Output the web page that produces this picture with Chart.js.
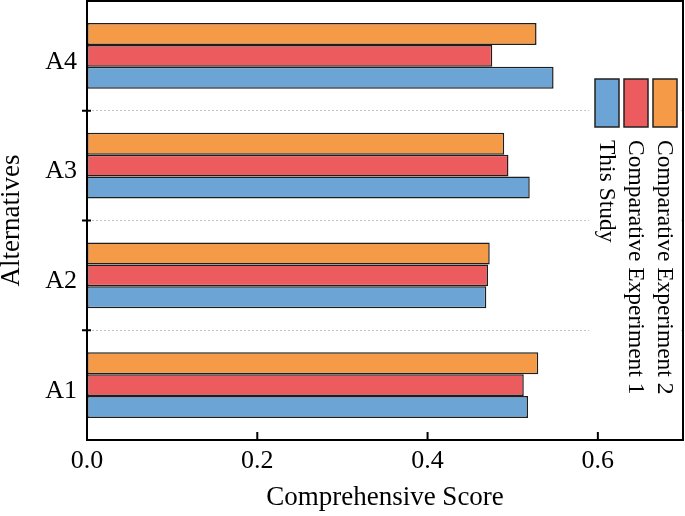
<!DOCTYPE html>
<html>
<head>
<meta charset="utf-8">
<script src="https://cdn.jsdelivr.net/npm/chart.js@4.4.0/dist/chart.umd.min.js"></script>
<style>
    html, body { margin: 0; padding: 0; background: #fff; }
    #box { width: 685px; height: 516px; }
</style>
</head>
<body>
<div id="box"><canvas id="myChart"></canvas></div>
<script>
const categories = ['A4', 'A3', 'A2', 'A1'];
const thisStudy = [0.548, 0.520, 0.469, 0.518];
const experiment1 = [0.476, 0.495, 0.471, 0.513];
const experiment2 = [0.528, 0.490, 0.473, 0.530];
const xTicks = [0, 0.2, 0.4, 0.6];

const fonte = 'Liberation Serif, Times New Roman, serif';

// legenda vertical, texto girado, desenhada a mao
const legendaPlugin = {
    id: 'legendaVertical',
    beforeDatasetsDraw(chart) {
        const ctx = chart.ctx;
        const area = chart.chartArea;
        ctx.save();
        ctx.fillStyle = '#fff';
        ctx.fillRect(589, area.top + 2, area.right - 591, area.bottom - area.top - 4);
        const ordem = chart.data.datasets.slice().reverse();
        ordem.forEach((ds, i) => {
            const x = 595 + i * 29;
            ctx.fillStyle = ds.backgroundColor;
            ctx.fillRect(x, 79, 24, 48);
            ctx.strokeStyle = '#222';
            ctx.lineWidth = 1.5;
            ctx.strokeRect(x, 79, 24, 48);
            ctx.save();
            ctx.translate(x + 11, 140);
            ctx.rotate(Math.PI / 2);
            ctx.fillStyle = '#000';
            ctx.font = '23.5px ' + fonte;
            ctx.textAlign = 'left';
            ctx.textBaseline = 'middle';
            ctx.fillText(ds.label, 0, 0);
            ctx.restore();
        });
        ctx.restore();
    },
    afterDraw(chart) {
        const ctx = chart.ctx;
        const area = chart.chartArea;
        const xs = chart.scales.x;
        const ys = chart.scales.y;
        ctx.save();
        ctx.strokeStyle = '#000';
        ctx.lineWidth = 2;
        ctx.strokeRect(area.left, area.top, area.right - area.left, area.bottom - area.top);
        ctx.beginPath();
        xTicks.forEach(v => {
            const px = xs.getPixelForValue(v);
            ctx.moveTo(px, area.bottom);
            ctx.lineTo(px, area.bottom - 8);
        });
        for (let i = 1; i < categories.length; i++) {
            const py = ys.getPixelForValue(i - 0.5);
            ctx.moveTo(area.left - 5, py);
            ctx.lineTo(area.left + 4, py);
        }
        ctx.stroke();
        ctx.restore();
    }
};

const ctxChart = document.getElementById('myChart');
const data = {
    labels: categories,
    datasets: [{
        label: 'Comparative Experiment 2',
        data: experiment2,
        backgroundColor: '#F59A47'
    }, {
        label: 'Comparative Experiment 1',
        data: experiment1,
        backgroundColor: '#EC5B5E'
    }, {
        label: 'This Study',
        data: thisStudy,
        backgroundColor: '#6CA5D5'
    }]
};
data.datasets.forEach(ds => {
    ds.borderColor = '#1e1e1e';
    ds.borderWidth = 1.5;
    ds.borderSkipped = false;
    ds.categoryPercentage = 0.6;
    ds.barPercentage = 1.0;
});

const config = {
    type: 'bar',
    data: data,
    options: {
        indexAxis: 'y',
        responsive: true,
        maintainAspectRatio: false,
        animation: false,
        layout: { padding: { top: 1, right: 2, left: 0, bottom: 0 } },
        plugins: {
            legend: { display: false },
            tooltip: { enabled: false }
        },
        scales: {
            x: {
                min: 0,
                max: 0.70,
                afterBuildTicks: scale => {
                    scale.ticks = xTicks.map(v => ({ value: v }));
                },
                afterFit: scale => {
                    scale.height = 76;
                    scale.paddingLeft = 0;
                    scale.paddingRight = 0;
                },
                grid: { display: false },
                border: { display: true, color: '#000', width: 2 },
                ticks: {
                    color: '#000',
                    padding: -2,
                    font: { family: fonte, size: 26 },
                    callback: v => Number(v).toFixed(1)
                },
                title: {
                    display: true,
                    text: 'Comprehensive Score',
                    color: '#000',
                    font: { family: fonte, size: 27, lineHeight: 1 },
                    padding: { top: 0, bottom: 5 }
                }
            },
            y: {
                afterFit: scale => {
                    scale.width = 87;
                    scale.paddingTop = 0;
                    scale.paddingBottom = 0;
                },
                grid: { display: true, color: '#c4c4c4', lineWidth: 1, drawTicks: false },
                border: { display: true, color: '#000', width: 2, dash: [2, 2] },
                ticks: {
                    color: '#000',
                    padding: 10,
                    labelOffset: 6,
                    font: { family: fonte, size: 26 }
                },
                title: {
                    display: true,
                    text: 'Alternatives',
                    color: '#000',
                    font: { family: fonte, size: 27, lineHeight: 1 },
                    padding: { top: -2, bottom: 0 }
                }
            }
        }
    },
    plugins: [legendaPlugin]
};

new Chart(ctxChart, config);
</script>
</body>
</html>
